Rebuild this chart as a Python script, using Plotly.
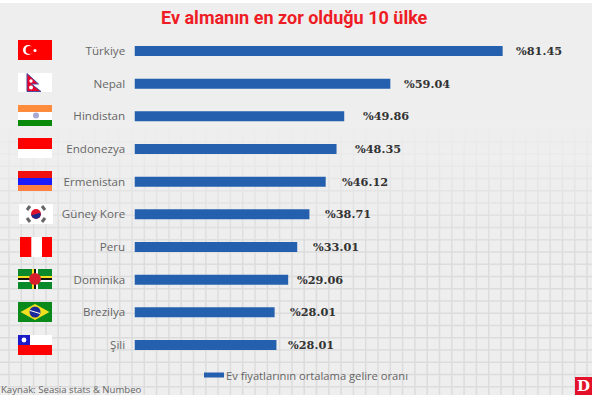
import plotly.graph_objects as go

W, H = 594, 395

countries = ["Türkiye", "Nepal", "Hindistan", "Endonezya", "Ermenistan",
             "Güney Kore", "Peru", "Dominika", "Brezilya", "Şili"]
# percentages as printed beside the bars
printed_values = [81.45, 59.04, 49.86, 48.35, 46.12, 38.71, 33.01, 29.06, 28.01, 28.01]
# bar lengths as drawn in the picture (the source's bars are not exactly to scale)
drawn_values = [81.45, 56.6, 46.4, 44.7, 42.3, 38.7, 36.0, 34.0, 31.0, 31.4]
label_gaps = [11, 12, 17, 16, 14, 14, 14, 7, 13, 10]

title_text = "Ev almanın en zor olduğu 10 ülke"
legend_text = "Ev fiyatlarının ortalama gelire oranı"
source_text = "Kaynak: Seasia stats & Numbeo"

BLUE = "#2560ae"
PANEL = "#eeeeee"
GRID = "#dcdcdc"
PX_PER_UNIT = 4.52
BAR_LEFT = 134.5
ROW0, ROWSTEP = 51.0, 32.67

px = lambda x: x / W
py = lambda y: 1 - y / H

shapes = []


def rect(x0, y0, x1, y1, color, layer="below", opacity=1):
    shapes.append(dict(type="rect", xref="paper", yref="paper", x0=px(x0), x1=px(x1),
                       y0=py(y1), y1=py(y0), fillcolor=color, line_width=0,
                       layer=layer, opacity=opacity))


def circle(cx, cy, r, color):
    shapes.append(dict(type="circle", xref="paper", yref="paper", x0=px(cx - r), x1=px(cx + r),
                       y0=py(cy + r), y1=py(cy - r), fillcolor=color, line_width=0, layer="above"))


def poly(points, color, line=None, lw=0):
    d = "M" + " L".join(f"{px(a):.5f},{py(b):.5f}" for a, b in points) + " Z"
    shapes.append(dict(type="path", xref="paper", yref="paper", path=d, fillcolor=color,
                       line=dict(color=line or color, width=lw), layer="above"))


def seg(x0, y0, x1, y1, color, lw):
    shapes.append(dict(type="line", xref="paper", yref="paper", x0=px(x0), x1=px(x1),
                       y0=py(y0), y1=py(y1), line=dict(color=color, width=lw), layer="above"))


def flag(x0, y0, x1, y1, color):
    rect(x0, y0, x1, y1, color, layer="above")


# panel
rect(0, 3, 592, 395, PANEL)

# grid
gx = 9.0
while gx < 592:
    shapes.append(dict(type="line", xref="paper", yref="paper", x0=px(gx), x1=px(gx),
                       y0=py(125), y1=py(395), line=dict(color=GRID, width=1.5), layer="below"))
    gx += 12.3
gy = 129.6
while gy < 395:
    shapes.append(dict(type="line", xref="paper", yref="paper", x0=0, x1=px(592),
                       y0=py(gy), y1=py(gy), line=dict(color=GRID, width=1.5), layer="below"))
    gy += 12.25
# fade the grid towards the top
fade_top, fade_bottom, steps = 120, 250, 13
for i in range(steps):
    a = fade_top + (fade_bottom - fade_top) * i / steps
    b = fade_top + (fade_bottom - fade_top) * (i + 1) / steps
    rect(0, a, 592, b, PANEL, opacity=0.95 * (1 - i / steps))

# Türkiye
flag(18, 40, 52, 60, "#ff0000")
circle(28, 50, 5, "#ffffff")
circle(29.6, 50, 4, "#ff0000")
circle(35, 50.5, 1.6, "#ffffff")
# Nepal
flag(18, 73, 52, 92, "#ffffff")
poly([(27, 73.5), (38.5, 84), (31.5, 84), (41, 91.5), (27, 91.5)], "#e8002a", "#4a4aa0", 1)
circle(31, 81, 1.7, "#ffffff")
circle(31, 87.5, 2, "#ffffff")
# Hindistan
flag(18, 105, 52, 112, "#ff8c3c")
flag(18, 112, 52, 120, "#ffffff")
flag(18, 120, 52, 126, "#0a8a0a")
circle(36, 115.5, 3, "#a8a8d0")
# Endonezya
flag(18, 138, 52, 149, "#ff0000")
flag(18, 149, 52, 158, "#ffffff")
# Ermenistan
flag(18, 171, 52, 178, "#f01010")
flag(18, 178, 52, 185, "#1a1aff")
flag(18, 185, 52, 191, "#ff8040")
# Güney Kore
flag(19, 204, 53, 224, "#ffffff")
for (a, b, c, d) in [(27, 210, 30, 206), (42, 206, 45, 210), (27, 218, 30, 222), (42, 222, 45, 218)]:
    seg(a, b, c, d, "#666666", 3)
circle(36, 214, 5, "#e0102a")
poly([(31, 214), (33, 215), (36, 214), (39, 213), (41, 214), (39.5, 217.5), (36, 219), (32.5, 217.5)], "#1a2a8a")
# Peru
flag(20, 237, 31.5, 257, "#ff0000")
flag(31.5, 237, 42, 257, "#ffffff")
flag(42, 237, 52, 257, "#ff0000")
# Dominika
flag(18, 269, 52, 289, "#0a8a2a")
flag(18, 276, 52, 278, "#f5e020")
flag(18, 278, 52, 280, "#111111")
flag(18, 280, 52, 282, "#ffffff")
flag(32, 269, 34, 289, "#f5e020")
flag(34, 269, 36, 289, "#111111")
flag(36, 269, 38, 289, "#ffffff")
circle(35, 279, 6, "#d81e2a")
# Brezilya
flag(18, 302, 52, 322, "#0a8a1a")
poly([(20.5, 312), (35, 304), (49.5, 312), (35, 320)], "#f0e020")
circle(35, 312, 5.5, "#1a2a9a")
seg(30, 310.5, 40, 313.5, "#ffffff", 1)
# Şili
flag(18, 335, 52, 345, "#ffffff")
flag(18, 345, 52, 355, "#ff0000")
flag(18, 335, 30, 345, "#1a1ac8")
circle(24, 340, 2.4, "#ffffff")

# legend swatch
rect(204, 372.5, 224, 377.5, BLUE, layer="above")
# logo
rect(575, 377, 592, 395, "#e3122a", layer="above")

annotations = []


def text(x, y, s, size, color, family, anchor="left", weight=None):
    annotations.append(dict(xref="paper", yref="paper", x=px(x), y=py(y), text=s, showarrow=False,
                            xanchor=anchor, yanchor="middle",
                            font=dict(size=size, color=color, family=family, weight=weight)))


text(294, 17, title_text, 18, "#ee1c25", "Roboto", "center", 700)
text(224, 375, legend_text, 11.2, "#666666", "Open Sans")
text(-1, 389, source_text, 9.6, "#666666", "Open Sans")
text(583.5, 386, "D", 15, "#ffffff", "DejaVu Serif", "center", 700)

for name, drawn, shown, gap in zip(countries, drawn_values, printed_values, label_gaps):
    annotations.append(dict(xref="x", yref="y", x=drawn, y=name, text=f"%{shown:.2f}",
                            showarrow=False, xanchor="left", yanchor="middle", xshift=gap,
                            font=dict(size=11.3, color="#333333", family="DejaVu Serif", weight=700)))

fig = go.Figure(go.Bar(x=drawn_values, y=countries, orientation="h", width=0.306,
                       marker=dict(color=BLUE, line_width=0), name=legend_text,
                       showlegend=False, hoverinfo="skip"))

top = ROW0 - ROWSTEP / 2
bottom = ROW0 + ROWSTEP * 9 + ROWSTEP / 2
fig.update_layout(
    width=W, height=H, margin=dict(l=0, r=0, t=0, b=0),
    paper_bgcolor="#ffffff", plot_bgcolor="rgba(0,0,0,0)",
    shapes=shapes, annotations=annotations, showlegend=False,
    xaxis=dict(domain=[BAR_LEFT / W, 1], range=[0, (W - BAR_LEFT) / PX_PER_UNIT],
               visible=False, fixedrange=True),
    yaxis=dict(domain=[1 - bottom / H, 1 - top / H], autorange=False, range=[9.5, -0.5],
               categoryorder="array", categoryarray=countries,
               showgrid=False, zeroline=False, showline=False,
               anchor="x", ticks="outside", ticklen=6, tickcolor="rgba(0,0,0,0)",
               tickfont=dict(family="Open Sans", size=11.6, color="#666666"), fixedrange=True),
)
fig.write_html("out.html", post_script="document.body.style.margin='0';",
               config=dict(displayModeBar=False))
